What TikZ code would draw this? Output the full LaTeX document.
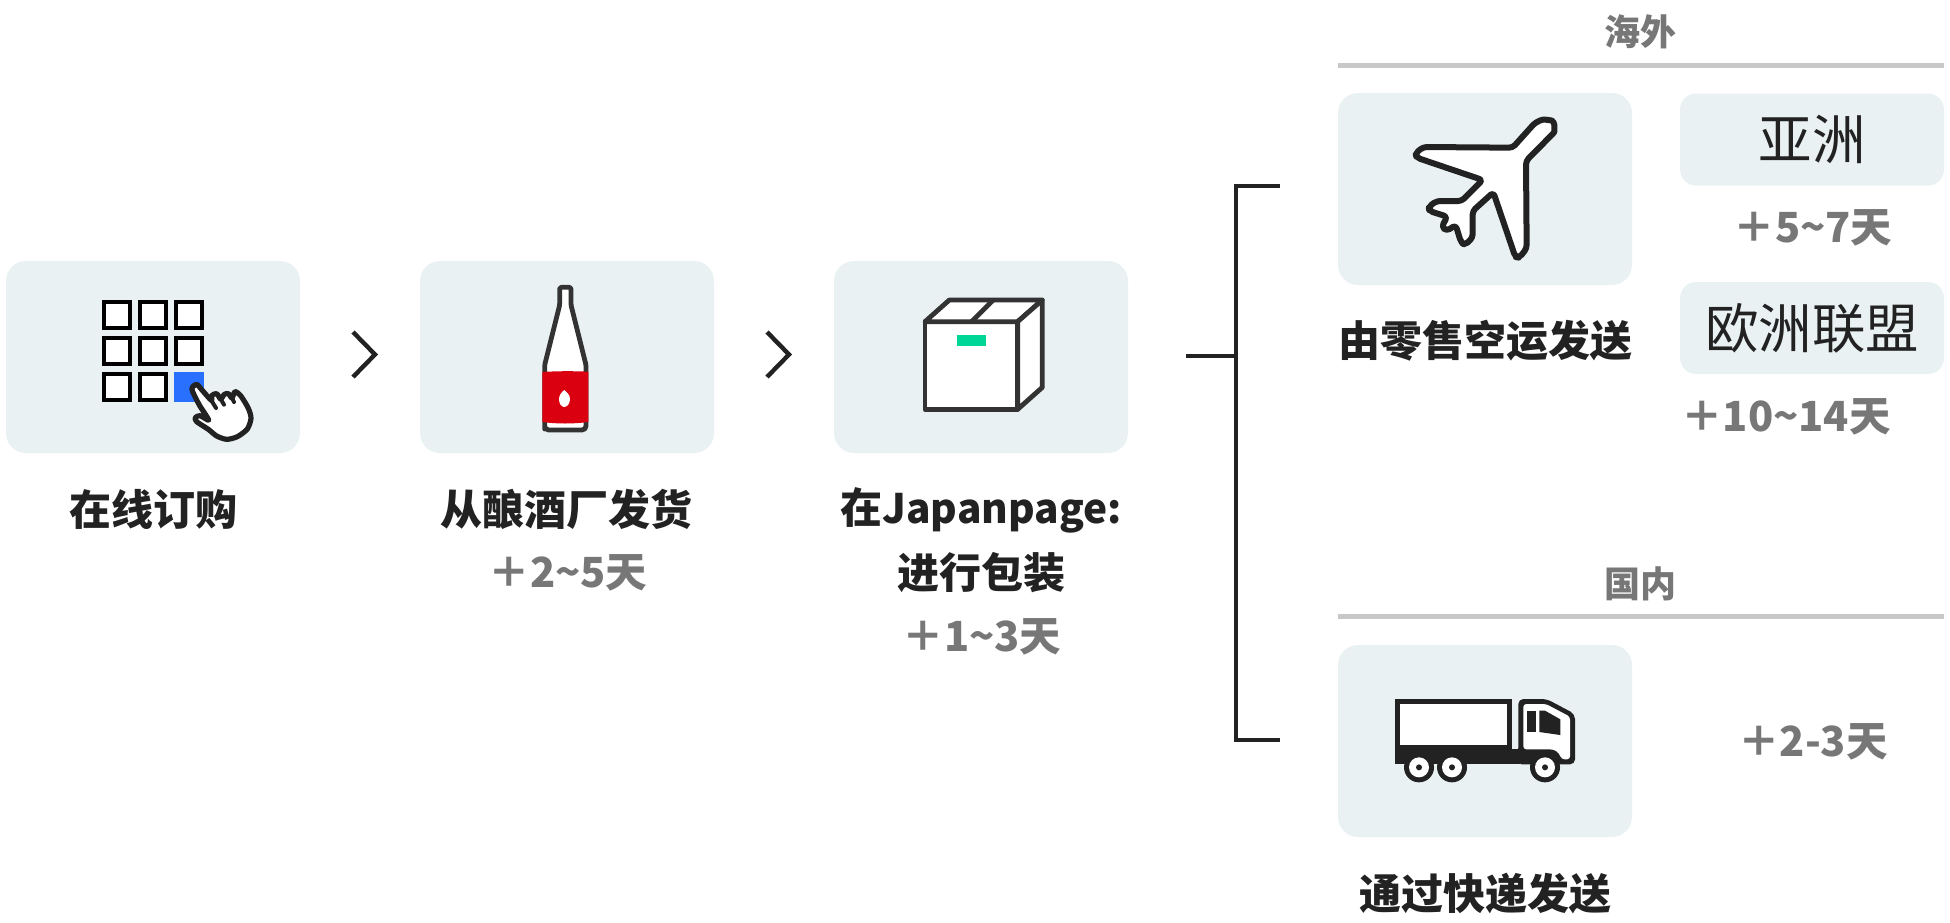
\documentclass[tikz,border=0pt]{standalone}
\usepackage{fontspec}
\setmainfont{Noto Sans CJK SC}
\definecolor{panel}{HTML}{E9F1F3}
\definecolor{ink}{HTML}{222222}
\definecolor{icon}{HTML}{333333}
\definecolor{muted}{HTML}{777777}
\definecolor{rulegray}{HTML}{C8C8C8}
\definecolor{keyblue}{HTML}{2970FF}
\definecolor{labelred}{HTML}{DA0010}
\definecolor{labelgreen}{HTML}{00D796}
\newcommand{\fs}[1]{\fontsize{#1pt}{#1pt}\selectfont}
\tikzset{
  x=1pt,y=-1pt,
  panelbox/.style={fill=panel,rounded corners=20pt,inner sep=0pt,outer sep=0pt,minimum width=294pt,minimum height=192pt},
  tagbox/.style={fill=panel,rounded corners=16pt,inner sep=0pt,outer sep=0pt,minimum width=264pt,minimum height=92pt,font=\fs{53.5},text=ink},
  title/.style={font=\fs{42}\bfseries,text=ink,inner sep=0pt,anchor=center},
  extra/.style={font=\fs{41.5}\bfseries,text=muted,inner sep=0pt,anchor=center},
  region/.style={font=\fs{36}\bfseries,text=muted,inner sep=0pt,anchor=center},
  rulerline/.style={draw=rulegray,line width=5pt},
  bracketline/.style={draw=ink,line width=4pt},
  chev/.style={draw=ink,line width=4.4pt},
  key/.style={draw=black,line width=4.4pt,fill=white},
  iconline/.style={draw=icon,line width=4.8pt,line join=round,fill=white},
  planeline/.style={draw=ink,line width=6pt,line join=round,fill=white},
}
\begin{document}
\begin{tikzpicture}
\useasboundingbox (0,0) rectangle (1950,922);
% panels
\node[panelbox] (order) at (153,357) {};
\node[panelbox] (brew) at (567,357) {};
\node[panelbox] (pack) at (981,357) {};
\node[panelbox] (air) at (1485,189) {};
\node[panelbox] (truck) at (1485,741) {};
\node[tagbox] (asia) at (1812,139.5) {亚洲};
\node[tagbox] (eu) at (1812,328) {欧洲联盟};
% chevrons
\coordinate (c1a) at (353,332); \coordinate (c1b) at (375,354.5); \coordinate (c1c) at (353,377);
\coordinate (c2a) at (767,332); \coordinate (c2b) at (789,354.5); \coordinate (c2c) at (767,377);
\draw[chev] (c1a) -- (c1b) -- (c1c);
\draw[chev] (c2a) -- (c2b) -- (c2c);
% bracket
\coordinate (bt) at (1280,185.5); \coordinate (btc) at (1236,185.5);
\coordinate (bb) at (1280,740); \coordinate (bbc) at (1236,740);
\coordinate (bm) at (1186,356); \coordinate (bmc) at (1236,356);
\draw[bracketline] (bt) -- (btc) -- (bbc) -- (bb);
\draw[bracketline] (bm) -- (bmc);
% rules
\coordinate (r1a) at (1338,65); \coordinate (r1b) at (1944,65);
\coordinate (r2a) at (1338,616); \coordinate (r2b) at (1944,616);
\draw[rulerline] (r1a) -- (r1b);
\draw[rulerline] (r2a) -- (r2b);
% texts
\node[region] (overseas) at (1640,32) {海外};
\node[region] (domestic) at (1640,584) {国内};
\node[title] (t1) at (153,509) {在线订购};
\node[title] (t2) at (566.5,509) {从酿酒厂发货};
\node[extra] (e2) at (568,573) {＋2\textasciitilde5天};
\node[title] (t3) at (981,510) {在{\fs{40.6}Japanpage:}};
\node[title] (t3b) at (981,573) {进行包装};
\node[extra] (e3) at (982,637) {＋1\textasciitilde3天};
\node[title] (t4) at (1485,341) {由零售空运发送};
\node[title] (t5) at (1485,893) {通过快递发送};
\node[extra] (e4) at (1813,228) {＋5\textasciitilde7天};
\node[extra] (e5) at (1786,417) {＋10\textasciitilde14天};
\node[extra] (e6) at (1813,742) {＋2-3天};
% keypad
\foreach \c/\r in {0/0,1/0,2/0,0/1,1/1,2/1,0/2,1/2}{
  \draw[key] ({104+36*\c},{302+36*\r}) rectangle ({130+36*\c},{328+36*\r});
}
\fill[keyblue] (174,372) rectangle (204,402);
\begin{scope}[shift={(0,250)},scale=1/3]
\draw[draw=ink,line width=5.2pt,fill=white,line join=round] plot[smooth cycle,tension=.45] coordinates{
 (590,403) (606,420) (634,451) (636,436) (650,431) (662,447) (673,433) (685,431) (696,444) (705,425) (722,437) (745,475) (753,505) (742,537) (712,560) (680,568) (650,558) (625,538) (590,515) (586,503) (600,497) (626,510) (598,465) (578,425) (577,412)};
\draw[draw=ink,line width=4pt,line cap=round] (634,451) -- (648,474);
\draw[draw=ink,line width=4pt,line cap=round] (662,447) -- (672,464);
\draw[draw=ink,line width=4pt,line cap=round] (696,444) -- (702,456);
\end{scope}
% bottle
\begin{scope}[shift={(410,250)},scale=1/3]
\draw[iconline,rounded corners=1.5pt] (449,112) -- (483,112) -- (483,165) -- (528,345) -- (528,525) [rounded corners=4pt] -- (528,540) -- (404,540) -- (404,525) [rounded corners=1.5pt] -- (404,345) -- (449,165) -- cycle;
\fill[labelred] (397,366) .. controls (440,363) and (490,363) .. (535,365) -- (535,516) .. controls (490,522) and (440,522) .. (397,516) -- cycle;
\fill[white] (463,420) .. controls (472,428) and (480,436) .. (480,447) .. controls (480,462) and (470,471) .. (463,471) .. controls (455,471) and (447,462) .. (447,447) .. controls (447,436) and (455,426) .. (463,420) -- cycle;
\end{scope}
% carton
\begin{scope}[shift={(830,250)},scale=1/3]
\draw[iconline] (285,215) -- (563,215) -- (563,478) -- (285,478) -- cycle;
\draw[iconline] (285,215) -- (358,150) -- (637,150) -- (563,215) -- cycle;
\draw[iconline] (637,150) -- (637,412) -- (563,478) -- (563,215) -- cycle;
\draw[draw=icon,line width=4.8pt] (425,215) -- (490,150);
\fill[labelgreen] (380,256) rectangle (468,287);
\end{scope}
% plane
\begin{scope}[shift={(1330,85)},scale=1/3]
\draw[planeline,rounded corners=3.5pt] (548,188) -- (600,130) .. controls (622,106) and (640,103) .. (655,105) .. controls (668,107) and (673,115) .. (673,130) .. controls (673,142) and (665,150) .. (655,160) -- (588,228) -- (590,490) -- (568,518) -- (556,516) -- (490,322) -- (428,378) -- (428,458) -- (405,480) -- (393,472) -- (377,420) -- (350,438) -- (335,425) -- (352,395) -- (298,378) -- (296,365) -- (320,348) -- (395,348) -- (458,285) -- (260,218) -- (256,205) -- (280,186) -- cycle;
\end{scope}
% truck
\begin{scope}[shift={(1330,640)},scale=1/3]
\fill[ink,rounded corners=5pt] (565,328) -- (565,177) -- (650,177) -- (735,222) -- (735,373) -- (560,373) -- cycle;
\fill[ink] (195,176) rectangle (546,373);
\fill[ink] (540,328) rectangle (570,373);
\fill[white,rounded corners=3pt] (580,328) -- (580,192) -- (648,192) -- (720,230) -- (720,358) -- (695,358) .. controls (685,335) and (675,328) .. (650,328) -- cycle;
\fill[white] (211,192) rectangle (531,314);
\fill[ink] (591,212) rectangle (618,276);
\fill[ink] (628,212) -- (645,212) -- (691,238) -- (691,285) -- (628,276) -- cycle;
\foreach \wx in {267,366,645}{
  \fill[ink] (\wx,382) circle[radius=45];
  \fill[white] (\wx,382) circle[radius=30];
  \fill[ink] (\wx,382) circle[radius=9];
}
\end{scope}
\end{tikzpicture}
\end{document}
